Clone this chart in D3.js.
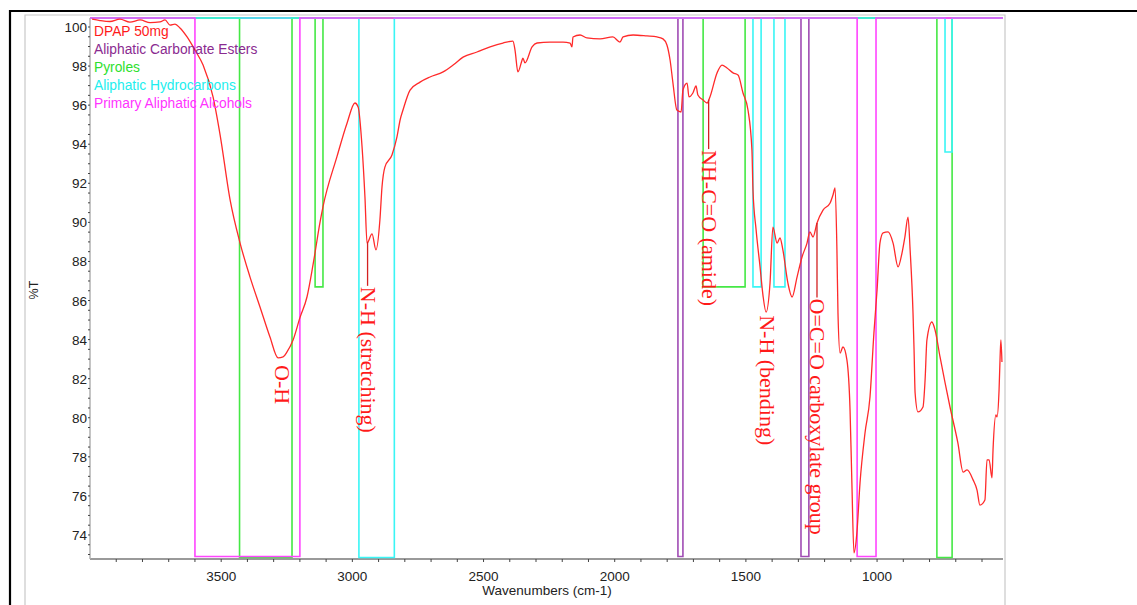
<!DOCTYPE html>
<html>
<head>
<meta charset="utf-8">
<script src="https://cdn.jsdelivr.net/npm/d3@7"></script>
<style>
  body { margin: 0; background: #ffffff; }
  svg { display: block; }
</style>
</head>
<body>
<svg id="chart" width="1137" height="605"></svg>
<script>
// FTIR spectrum of DPAP 50mg: wavenumber (cm-1) and transmittance (%T)
const wavenumbers = [
  3992, 3962, 3924, 3886, 3848, 3809, 3771, 3733, 3714, 3695, 3676, 3657, 3630, 3600, 3569, 3531,
  3504, 3466, 3428, 3390, 3352, 3314, 3283, 3264, 3249, 3226, 3200, 3173, 3150, 3123, 3112, 3059,
  3020, 2990, 2978, 2963, 2952, 2944, 2925, 2910, 2895, 2887, 2876, 2849, 2830, 2818, 2807, 2780,
  2742, 2704, 2654, 2616, 2578, 2525, 2475, 2426, 2388, 2380, 2369, 2353, 2350, 2342, 2315, 2296,
  2247, 2197, 2170, 2163, 2159, 2132, 2106, 2056, 2007, 1980, 1968, 1930, 1877, 1839, 1816, 1801,
  1789, 1778, 1763, 1747, 1740, 1724, 1717, 1702, 1690, 1683, 1663, 1648, 1637, 1610, 1591, 1572,
  1549, 1530, 1511, 1492, 1477, 1473, 1461, 1446, 1435, 1423, 1408, 1397, 1381, 1370, 1359, 1340,
  1324, 1305, 1286, 1267, 1256, 1244, 1229, 1206, 1179, 1168, 1160, 1153, 1149, 1141, 1130, 1115,
  1103, 1096, 1088, 1077, 1065, 1046, 1027, 1012, 1000, 989, 977, 958, 939, 920, 905, 894,
  882, 874, 863, 859, 855, 844, 825, 817, 810, 791, 779, 760, 722, 692, 672, 657,
  634, 619, 608, 589, 581, 573, 562, 558, 547, 543, 535, 531, 528, 524
];
const transmittance = [
  100.40, 100.33, 100.28, 100.40, 100.25, 100.36, 100.22, 100.26, 100.36, 100.10, 100.15, 99.95, 99.49, 98.82, 98.05, 96.42,
  94.47, 91.15, 88.94, 87.20, 85.67, 84.13, 83.06, 83.11, 83.37, 83.98, 85.11, 86.18, 87.82, 90.02, 90.79, 93.35,
  95.09, 96.11, 95.91, 93.86, 91.30, 88.94, 89.41, 88.59, 90.12, 91.81, 92.83, 93.45, 94.37, 95.24, 95.75, 96.77,
  97.18, 97.44, 97.70, 98.05, 98.46, 98.72, 98.98, 99.18, 99.28, 98.82, 97.70, 98.31, 98.41, 98.16, 98.98, 99.18,
  99.23, 99.23, 99.18, 98.98, 99.49, 99.59, 99.44, 99.39, 99.49, 99.23, 99.49, 99.59, 99.54, 99.49, 99.39, 99.08,
  98.31, 97.13, 95.75, 95.65, 96.77, 97.13, 96.42, 96.62, 96.98, 96.52, 96.26, 96.11, 96.42, 97.65, 98.05, 97.90,
  97.65, 97.54, 96.62, 95.75, 93.70, 91.66, 89.61, 87.72, 86.28, 85.41, 86.90, 89.76, 88.94, 89.20, 88.59, 86.90,
  86.18, 87.20, 88.23, 88.94, 89.51, 89.25, 89.97, 90.63, 90.99, 91.40, 91.76, 88.59, 85.36, 83.31, 83.62, 82.96,
  80.40, 76.66, 73.08, 74.10, 76.66, 79.22, 81.06, 84.34, 86.54, 88.94, 89.46, 89.51, 88.94, 87.72, 88.43, 89.25,
  90.27, 88.59, 85.36, 83.47, 81.27, 80.30, 80.55, 81.93, 83.98, 84.90, 84.49, 83.11, 80.55, 78.71, 77.22, 77.33,
  76.82, 76.30, 75.53, 75.79, 77.84, 77.84, 76.92, 78.35, 80.14, 80.04, 81.42, 83.11, 83.98, 82.85
];

// Library search regions: [from cm-1, to cm-1, depth %T]
const esterBands       = [[1759, 1740, 72.9], [1290, 1260, 72.9]];
const pyroleBands      = [[3430, 3230, 72.85], [3142, 3112, 86.7], [1663, 1503, 86.7], [772, 714, 72.85]];
const hydrocarbonBands = [[2975, 2840, 72.85], [1473, 1442, 86.7], [1393, 1351, 86.7], [741, 714, 93.6]];
const alcoholBands     = [[3600, 3200, 72.9], [1076, 1004, 72.9]];

const legendNames  = ["DPAP 50mg", "Aliphatic Carbonate Esters", "Pyroles", "Aliphatic Hydrocarbons", "Primary Aliphatic Alcohols"];
const legendColors = ["#ff1a1a", "#8a2a90", "#2ee02e", "#22eeee", "#ff33ff"];
const bandColors   = ["#a04cb4", "#45e845", "#3af5f5", "#ff45ff"];

// Peak assignments: label, wavenumber, %T where the label starts
const peakLabels = ["O-H", "N-H (stretching)", "NH-C=O (amide)", "N-H (bending)", "O=C=O carboxylate group"];
const peakWaves  = [3270, 2942, 1642, 1420, 1229];
const peakTextTops = [82.7, 86.7, 93.7, 85.25, 86.1];

const xTickLabels = [3500, 3000, 2500, 2000, 1500, 1000];
const yTickLabels = [74, 76, 78, 80, 82, 84, 86, 88, 90, 92, 94, 96, 98, 100];

const svg = d3.select("#chart");
const W = 1137, H = 605;
const plot = { left: 90, right: 1003, top: 18, bottom: 559 };

const x = d3.scaleLinear().domain([4000, 520]).range([plot.left, plot.right]);
const y = d3.scaleLinear().domain([72.77, 100.46]).range([plot.bottom, plot.top]);

// outer frame
svg.append("rect").attr("x", 0).attr("y", 0).attr("width", W).attr("height", H).attr("fill", "#fff");
svg.append("line").attr("x1", 9).attr("x2", W).attr("y1", 11).attr("y2", 11)
  .attr("stroke", "#000").attr("stroke-width", 2.2);
svg.append("line").attr("x1", 10).attr("x2", 10).attr("y1", 10).attr("y2", H)
  .attr("stroke", "#000").attr("stroke-width", 2.2);
svg.append("path").attr("d", `M25,${H} V15 H1005 V${H}`)
  .attr("fill", "none").attr("stroke", "#c8c8c8").attr("stroke-width", 1.2);

// axes
const xMinor = d3.range(600, 4000, 100);
const gx = svg.append("g").attr("transform", `translate(0,${plot.bottom})`);
gx.append("line").attr("x1", plot.left).attr("x2", plot.right).attr("y1", 0).attr("y2", 0)
  .attr("stroke", "#9a9a9a").attr("stroke-width", 2);
gx.selectAll("line.tick").data(xMinor).join("line").attr("class", "tick")
  .attr("x1", d => x(d)).attr("x2", d => x(d)).attr("y1", 0).attr("y2", 3)
  .attr("stroke", "#444").attr("stroke-width", 1);
gx.selectAll("text").data(xTickLabels).join("text")
  .attr("x", d => x(d)).attr("y", 22)
  .attr("text-anchor", "middle")
  .attr("font-family", "Liberation Sans, Arial, sans-serif").attr("font-size", 13.5)
  .attr("fill", "#222").text(d => d);

const yMinor = d3.range(73, 100.5, 0.5);
const gy = svg.append("g").attr("transform", `translate(${plot.left},0)`);
gy.append("line").attr("x1", 0).attr("x2", 0).attr("y1", plot.top).attr("y2", plot.bottom)
  .attr("stroke", "#b0b0b0").attr("stroke-width", 1.5);
gy.selectAll("line.tick").data(yMinor).join("line").attr("class", "tick")
  .attr("x1", -2).attr("x2", 0).attr("y1", d => y(d)).attr("y2", d => y(d))
  .attr("stroke", "#444").attr("stroke-width", 1);
gy.selectAll("text").data(yTickLabels).join("text")
  .attr("x", -3).attr("y", d => y(d) + 5)
  .attr("text-anchor", "end")
  .attr("font-family", "Liberation Sans, Arial, sans-serif").attr("font-size", 13.5)
  .attr("fill", "#222").text(d => d);

svg.append("text").attr("transform", `translate(38,290) rotate(-90)`)
  .attr("text-anchor", "middle")
  .attr("font-family", "Liberation Sans, Arial, sans-serif").attr("font-size", 12.5)
  .attr("fill", "#222").text("%T");
svg.append("text").attr("x", 547).attr("y", 595)
  .attr("text-anchor", "middle")
  .attr("font-family", "Liberation Sans, Arial, sans-serif").attr("font-size", 13.5)
  .attr("fill", "#222").text("Wavenumbers (cm-1)");

// library region step traces
function bandPath(bands) {
  const sorted = bands.slice().sort((a, b) => b[0] - a[0]);
  let d = `M${x(4000)},${y(100.46)}`;
  sorted.forEach(([from, to, depth]) => {
    d += `L${x(from)},${y(100.46)}L${x(from)},${y(depth)}L${x(to)},${y(depth)}L${x(to)},${y(100.46)}`;
  });
  d += `L${x(520)},${y(100.46)}`;
  return d;
}
[esterBands, pyroleBands, hydrocarbonBands, alcoholBands].forEach((bands, i) => {
  svg.append("path").attr("d", bandPath(bands))
    .attr("fill", "none").attr("stroke", bandColors[i]).attr("stroke-width", 1.6)
    .attr("stroke-linejoin", "miter");
});

// spectrum
const spectrum = wavenumbers.map((w, i) => [w, transmittance[i]]);
const line = d3.line().x(d => x(d[0])).y(d => y(d[1])).curve(d3.curveMonotoneX);
svg.append("path").datum(spectrum).attr("d", line)
  .attr("fill", "none").attr("stroke", "#ff2a2a").attr("stroke-width", 1.3)
  .attr("stroke-linejoin", "round");

// peak labels with leaders
function valueAt(w) {
  for (let i = 0; i < spectrum.length - 1; i++) {
    const a = spectrum[i], b = spectrum[i + 1];
    if (w <= a[0] && w >= b[0]) {
      const t = (a[0] - w) / (a[0] - b[0]);
      return a[1] + t * (b[1] - a[1]);
    }
  }
  return spectrum[spectrum.length - 1][1];
}
peakLabels.forEach((label, i) => {
  const px = x(peakWaves[i]);
  const y0 = y(valueAt(peakWaves[i]));
  const y1 = y(peakTextTops[i]);
  if (y1 - y0 > 12) {
    svg.append("line").attr("x1", px).attr("x2", px).attr("y1", y0).attr("y2", y1 - 1)
      .attr("stroke", "#d42020").attr("stroke-width", 1.3);
  }
  svg.append("text")
    .attr("transform", `translate(${px + 1},${y1}) rotate(90)`)
    .attr("dominant-baseline", "central")
    .attr("font-family", "Liberation Serif, Times New Roman, serif").attr("font-size", 22)
    .attr("fill", "#ff1a1a").text(label);
});

// legend
svg.selectAll("text.legend").data(legendNames).join("text").attr("class", "legend")
  .attr("x", 94).attr("y", (d, i) => 36 + i * 18)
  .attr("font-family", "Liberation Sans, Arial, sans-serif").attr("font-size", 13.8)
  .attr("fill", (d, i) => legendColors[i]).text(d => d);
</script>
</body>
</html>
